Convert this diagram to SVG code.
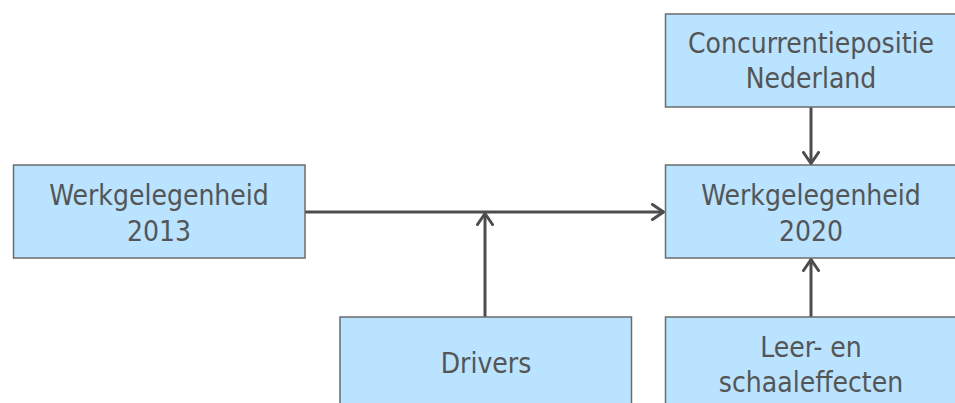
<svg xmlns="http://www.w3.org/2000/svg" width="955" height="403" viewBox="0 0 955 403">
<defs>
<style>
.box{fill:#B9E3FE;stroke:#6B6B6B;stroke-width:1.5}
.t{font-family:"DejaVu Sans Condensed","DejaVu Sans",sans-serif;font-size:28px;fill:#555555;text-anchor:middle}
.c{stroke:#4D4D4D;stroke-width:3;fill:none}
</style>
<marker id="ah" viewBox="0 0 14 18" refX="13" refY="9" markerWidth="14" markerHeight="18" markerUnits="userSpaceOnUse" orient="auto">
<path d="M1.5,1.5 L12.5,9 L1.5,16.5" fill="none" stroke="#4D4D4D" stroke-width="3" stroke-linecap="round" stroke-linejoin="round"/>
</marker>
</defs>
<rect width="955" height="403" fill="#FFFFFF"/>
<g id="connectors">
<line class="c" x1="305" y1="212" x2="664" y2="212" marker-end="url(#ah)"/>
<line class="c" x1="485" y1="317" x2="485" y2="213" marker-end="url(#ah)"/>
<line class="c" x1="811" y1="107" x2="811" y2="164" marker-end="url(#ah)"/>
<line class="c" x1="811" y1="317" x2="811" y2="259" marker-end="url(#ah)"/>
</g>
<g id="werk2013">
<rect class="box" x="13.5" y="165" width="291.5" height="93"/>
<text class="t" x="159" y="205">Werkgelegenheid</text>
<text class="t" x="159" y="241">2013</text>
</g>
<g id="concurrentie">
<rect class="box" x="665.5" y="14" width="292" height="93"/>
<text class="t" x="811" y="53">Concurrentiepositie</text>
<text class="t" x="811" y="88">Nederland</text>
</g>
<g id="werk2020">
<rect class="box" x="665.5" y="165" width="292" height="93"/>
<text class="t" x="811" y="205">Werkgelegenheid</text>
<text class="t" x="811" y="241">2020</text>
</g>
<g id="drivers">
<rect class="box" x="340" y="317" width="291.5" height="100"/>
<text class="t" x="486" y="373">Drivers</text>
</g>
<g id="leer">
<rect class="box" x="665.5" y="317" width="292" height="100"/>
<text class="t" x="811" y="357">Leer- en</text>
<text class="t" x="811" y="392">schaaleffecten</text>
</g>
</svg>
